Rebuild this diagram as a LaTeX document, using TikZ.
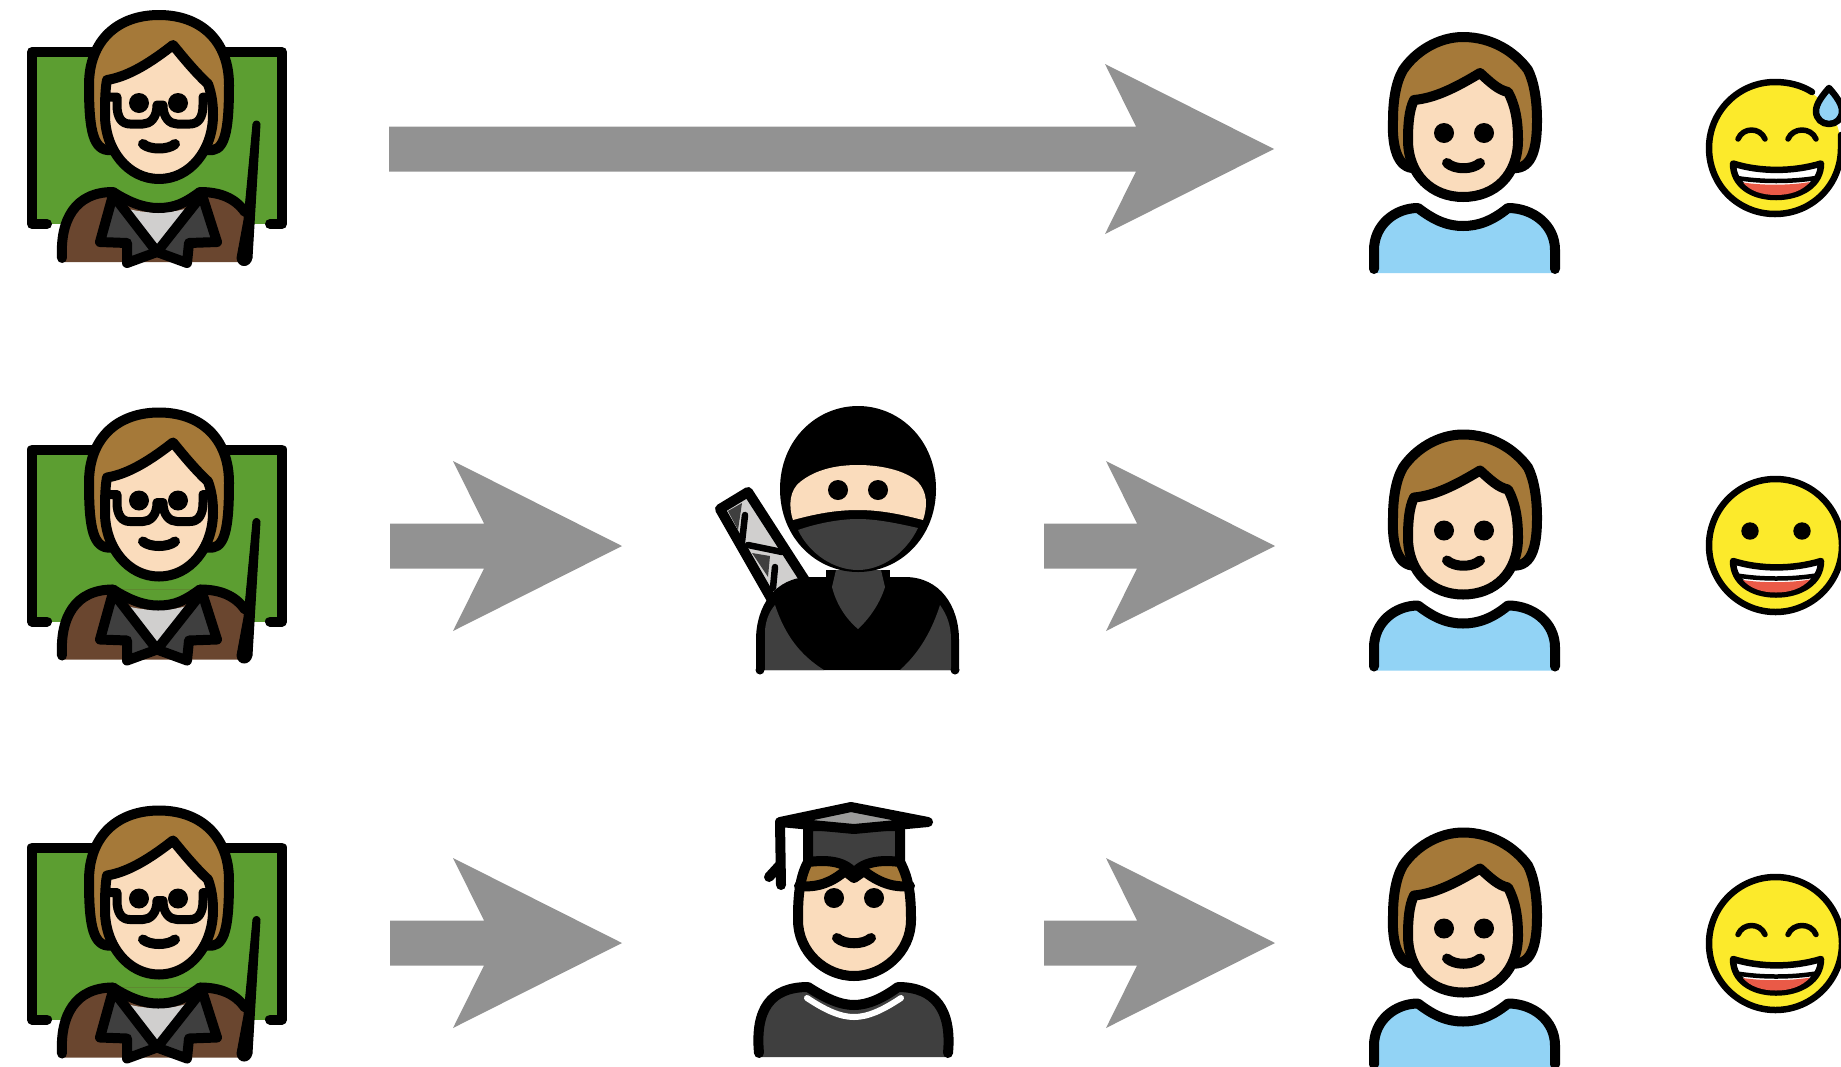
\documentclass[tikz,border=0pt]{standalone}
\usetikzlibrary{calc}
\definecolor{board}{HTML}{5C9E31}
\definecolor{hair}{HTML}{A57939}
\definecolor{skin}{HTML}{FADCBC}
\definecolor{jacket}{HTML}{6A462F}
\definecolor{darkg}{HTML}{3F3F3F}
\definecolor{lightg}{HTML}{D0CFCE}
\definecolor{midg}{HTML}{9B9B9A}
\definecolor{shirt}{HTML}{92D3F5}
\definecolor{smile}{HTML}{FCEA2B}
\definecolor{tongue}{HTML}{EA5A47}
\definecolor{arrowg}{HTML}{929292}
\tikzset{
  ol/.style={draw=black,line width=10pt,line join=round,line cap=round},
  thin ol/.style={draw=black,line width=6.5pt,line join=round,line cap=round},
  bigarrow/.style={fill=arrowg,draw=none}
}
\newcommand{\eyedot}[2]{\fill (#1,#2) circle (10pt);}
\newcommand{\teacher}{%
  \fill[board] (32,52) rectangle (282,224);
  \draw[ol] (47,224) -- (32,224) -- (32,52) -- (282,52) -- (282,224) -- (270,224);
  \filldraw[ol,fill=hair] (107,150) .. controls (92,148) and (89,125) .. (89,85) .. controls (89,40) and (118,15) .. (159,15) .. controls (200,15) and (229,40) .. (229,85) .. controls (229,125) and (226,148) .. (213,150) -- cycle;
  \filldraw[ol,fill=skin] (107,80) .. controls (125,77) and (145,67) .. (173,45) .. controls (182,56) and (195,72) .. (208,84) .. controls (212,95) and (213,105) .. (213,115) .. controls (213,150) and (190,179) .. (159,179) .. controls (128,179) and (105,150) .. (105,115) .. controls (105,105) and (105,90) .. (107,80) -- cycle;
  \draw[ol,line width=9pt] (109,97) -- (117,97) -- (117,105) .. controls (117,118) and (122,124) .. (130,124) -- (143,124) .. controls (150,124) and (157,118) .. (157,105) -- (163,105) .. controls (163,118) and (170,124) .. (177,124) -- (190,124) .. controls (198,124) and (203,118) .. (203,105) -- (203,97) -- (208,97);
  \eyedot{139}{103}\eyedot{178}{103}
  \draw[ol] (143,144) .. controls (150,150) and (168,150) .. (175,144);
  \fill[jacket] (62,262) -- (62,258) .. controls (60,220) and (75,192) .. (113,192) -- (200,192) .. controls (220,192) and (235,198) .. (245,212) -- (242,262) -- cycle;
  \fill[board] (113,192) .. controls (130,203) and (145,208) .. (158,208) .. controls (175,208) and (185,203) .. (200,192) -- cycle;
  \draw[ol] (62,258) .. controls (60,220) and (75,192) .. (113,192) (200,192) .. controls (220,192) and (235,198) .. (245,212);
  \fill[lightg] (125,208) .. controls (145,214) and (170,214) .. (188,208) -- (157,250) -- cycle;
  \filldraw[ol,fill=darkg] (113,195) -- (100,242) -- (127,243) -- (127,263) -- (157,252) -- cycle;
  \filldraw[ol,fill=darkg] (202,195) -- (217,242) -- (189,243) -- (187,263) -- (157,252) -- cycle;
  \draw[ol] (113,192) .. controls (130,203) and (145,208) .. (158,208) .. controls (175,208) and (185,203) .. (200,192);
  \filldraw[fill=black,line width=1pt,line join=round] (253,124) .. controls (254,120) and (259,120) .. (260,124) -- (252,258) .. controls (250,268) and (238,268) .. (237,258) -- (244,220) -- cycle;
}
\newcommand{\person}{%
  \fill[shirt] (1374,273) -- (1374,250) .. controls (1374,225) and (1395,208) .. (1418,208) .. controls (1435,221) and (1448,226) .. (1463,226) .. controls (1478,226) and (1492,221) .. (1508,208) .. controls (1533,208) and (1555,225) .. (1555,250) -- (1555,273) -- cycle;
  \draw[ol] (1374,269) -- (1374,250) .. controls (1374,225) and (1395,208) .. (1418,208) .. controls (1435,221) and (1448,226) .. (1463,226) .. controls (1478,226) and (1492,221) .. (1508,208) .. controls (1533,208) and (1555,225) .. (1555,250) -- (1555,269);
  \filldraw[ol,fill=hair] (1412,168) .. controls (1395,166) and (1392,140) .. (1393,120) .. controls (1393,100) and (1396,82) .. (1403,70) .. controls (1415,52) and (1438,37) .. (1463,37) .. controls (1492,37) and (1515,52) .. (1528,70) .. controls (1534,82) and (1537,100) .. (1537,120) .. controls (1537,140) and (1535,166) .. (1517,168) -- cycle;
  \filldraw[ol,fill=skin] (1414,100) .. controls (1435,98) and (1455,88) .. (1480,73) .. controls (1490,82) and (1498,90) .. (1508,92) .. controls (1515,105) and (1518,120) .. (1518,140) .. controls (1518,175) and (1495,197) .. (1463,197) .. controls (1432,197) and (1408,175) .. (1408,140) .. controls (1408,125) and (1409,110) .. (1414,100) -- cycle;
  \eyedot{1444}{133}\eyedot{1484}{133}
  \draw[ol] (1447,163) .. controls (1455,170) and (1472,170) .. (1480,163);
}
\newcommand{\emojimouth}{%
  \filldraw[thin ol,fill=white] (1733,163.5) .. controls (1760,172) and (1793,172) .. (1821,163.5) .. controls (1821,185) and (1800,197) .. (1776,197) .. controls (1752,197) and (1733,185) .. (1733,163.5) -- cycle;
  \fill[tongue] (1743,182.5) .. controls (1762,185.5) and (1790,185.5) .. (1810,182) .. controls (1802,191) and (1790,195) .. (1776,195) .. controls (1762,195) and (1750,191) .. (1743,182.5) -- cycle;
  \draw[black,line width=4.5pt,line cap=butt] (1737,178) .. controls (1762,182) and (1790,182) .. (1816,178);
}
\newcommand{\emojibrows}{%
  \draw[thin ol,line width=5.5pt] (1738,139) .. controls (1743,127) and (1760,127) .. (1765,139);
  \draw[thin ol,line width=5.5pt] (1788,139) .. controls (1793,127) and (1811,127) .. (1816,139);
}
\begin{document}
\begin{tikzpicture}[x=1pt,y=-1pt,line cap=round]
\useasboundingbox (0,0) rectangle (1841,1066);
\begin{scope}
\clip (0,0) rectangle (1841,1066);
% arrows
\coordinate (a1s) at (389,149); \coordinate (a1t) at (1274,149);
\coordinate (a2s) at (390,546); \coordinate (a2t) at (622,546);
\coordinate (a3s) at (1044,546); \coordinate (a3t) at (1275,546);
\coordinate (a4s) at (390,943); \coordinate (a4t) at (622,943);
\coordinate (a5s) at (1044,943); \coordinate (a5t) at (1275,943);
\foreach \s/\t in {a1s/a1t,a2s/a2t,a3s/a3t,a4s/a4t,a5s/a5t}{
  \fill[bigarrow] ([yshift=22.5pt]\s) -- ($(\t)+(-138pt,22.5pt)$) -- ($(\t)+(-169pt,85pt)$) -- (\t) -- ($(\t)+(-169pt,-85pt)$) -- ($(\t)+(-138pt,-22.5pt)$) -- ([yshift=-22.5pt]\s) -- cycle;
}
% teachers
\begin{scope}\teacher\end{scope}
\begin{scope}[yshift=-397.5pt]\teacher\end{scope}
\begin{scope}[yshift=-795.5pt]\teacher\end{scope}
% people
\begin{scope}\person\end{scope}
\begin{scope}[yshift=-397.5pt]\person\end{scope}
\begin{scope}[yshift=-795.5pt]\person\end{scope}
% emoji 1
\fill[smile] (1775,148) circle (66pt);
\draw[thin ol] (1812,92) .. controls (1801,85) and (1788,82) .. (1775,82) .. controls (1738,82) and (1709,112) .. (1709,148) .. controls (1709,185) and (1738,214) .. (1775,214) .. controls (1812,214) and (1841,185) .. (1841,148) -- (1841,135);
\filldraw[thin ol,fill=shirt] (1829,88) .. controls (1822,96) and (1816,104) .. (1816,111) .. controls (1816,119) and (1822,124) .. (1829,124) .. controls (1836,124) and (1842,119) .. (1842,111) .. controls (1842,104) and (1836,96) .. (1829,88) -- cycle;
\emojibrows
\emojimouth
% emoji 2
\begin{scope}[yshift=-397.5pt]
\filldraw[thin ol,fill=smile] (1775.5,148) circle (66.5pt);
\fill (1750,133.5) circle (8.7pt); \fill (1802,133.5) circle (8.7pt);
\emojimouth
\end{scope}
% emoji 3
\begin{scope}[yshift=-795.5pt]
\filldraw[thin ol,fill=smile] (1775.5,148) circle (66.5pt);
\emojibrows
\emojimouth
\end{scope}
% ninja
\filldraw[ol,fill=lightg] (720,509) -- (748,492) -- (808,585) -- (772,600) -- cycle;
\fill[darkg] (728,511) -- (742,503) -- (738,530) -- cycle;
\fill[darkg] (752,553) -- (770,556) -- (768,577) -- cycle;
\draw[ol,line width=6.5pt] (745,515) -- (742,542);
\draw[ol,line width=6.5pt] (775,567) -- (773,588);
\draw[ol,line width=6.5pt] (748,545) -- (782,552);
\fill[black] (756,670) -- (756,640) .. controls (756,606) and (775,577) .. (810,577) -- (905,577) .. controls (940,577) and (959,606) .. (959,640) -- (959,670) -- cycle;
\fill[darkg] (765,670) -- (765,630) .. controls (766,620) and (769,612) .. (775,605) .. controls (785,635) and (800,655) .. (824,670) -- cycle;
\fill[darkg] (900,670) .. controls (920,652) and (932,630) .. (940,605) .. controls (947,615) and (951,625) .. (951,640) -- (951,670) -- cycle;
\fill[black] (826,570) rectangle (890,590);
\fill[darkg] (832,587) -- (836,570) -- (881,570) -- (885,587) .. controls (880,603) and (870,618) .. (858,629) .. controls (845,618) and (836,603) .. (832,587) -- cycle;
\fill (760,670) circle (4.5pt); \fill (955,670) circle (4.5pt);
\filldraw[ol,fill=black] (858,411) .. controls (897,411) and (931,443) .. (931,489) .. controls (931,535) and (897,567) .. (858,567) .. controls (819,567) and (785,535) .. (785,489) .. controls (785,443) and (819,411) .. (858,411) -- cycle;
\fill[skin] (793,520) .. controls (788,505) and (790,490) .. (800,482) .. controls (815,470) and (835,465) .. (858,465) .. controls (880,465) and (905,470) .. (918,482) .. controls (927,492) and (928,505) .. (923,520) .. controls (900,514) and (880,510) .. (858,510) .. controls (835,510) and (815,514) .. (793,520) -- cycle;
\fill[darkg] (798,530) .. controls (815,524) and (838,519) .. (858,519) .. controls (878,519) and (900,524) .. (918,528) .. controls (905,555) and (880,570) .. (858,570) .. controls (835,570) and (810,555) .. (798,530) -- cycle;
\eyedot{838}{490}\eyedot{878}{490}
% graduate
\filldraw[ol,fill=darkg] (808,826) -- (808,870) -- (854,875) -- (900,865) -- (900,826) -- cycle;
\draw[ol] (780,822) -- (781,885);
\draw[ol] (780,865) -- (769,877);
\filldraw[ol,fill=midg] (780,822) -- (851,807) -- (928,822) -- (854,829) -- cycle;
\fill[skin] (808,862) .. controls (798,880) and (798,905) .. (798,920) .. controls (798,952) and (825,976) .. (854,976) .. controls (883,976) and (911,952) .. (911,920) .. controls (911,900) and (910,880) .. (900,862) .. controls (885,860) and (865,860) .. (854,873) .. controls (843,860) and (825,860) .. (808,862) -- cycle;
\fill[hair] (803,884) -- (808,862) .. controls (825,860) and (843,860) .. (850,868) -- (830,884) -- cycle;
\fill[hair] (858,868) .. controls (865,860) and (885,860) .. (900,862) -- (906,884) -- (880,884) -- cycle;
\draw[ol] (808,862) .. controls (798,880) and (798,905) .. (798,920) .. controls (798,952) and (825,976) .. (854,976) .. controls (883,976) and (911,952) .. (911,920) .. controls (911,900) and (910,880) .. (900,862) .. controls (885,860) and (865,860) .. (854,873) .. controls (843,860) and (825,860) .. (808,862) -- cycle;
\draw[ol] (799,886) .. controls (818,888) and (832,882) .. (845,871) -- (854,878) -- (864,871) .. controls (878,882) and (893,888) .. (910,886);
\eyedot{834}{898}\eyedot{874}{898}
\draw[ol] (837,938) .. controls (845,945) and (863,945) .. (871,938);
\fill[darkg] (759,1057) .. controls (755,1010) and (770,987) .. (808,987) .. controls (825,998) and (840,1005) .. (854,1005) .. controls (868,1005) and (883,998) .. (898,987) .. controls (935,987) and (952,1010) .. (948,1057) -- cycle;
\draw[ol] (759,1053) .. controls (755,1010) and (770,987) .. (808,987) .. controls (825,998) and (840,1005) .. (854,1005) .. controls (868,1005) and (883,998) .. (898,987) .. controls (935,987) and (952,1010) .. (948,1053);
\draw[white,line width=6pt,line cap=round] (807,998) .. controls (825,1010) and (840,1017) .. (854,1017) .. controls (868,1017) and (883,1010) .. (901,998);
\end{scope}
\end{tikzpicture}
\end{document}
